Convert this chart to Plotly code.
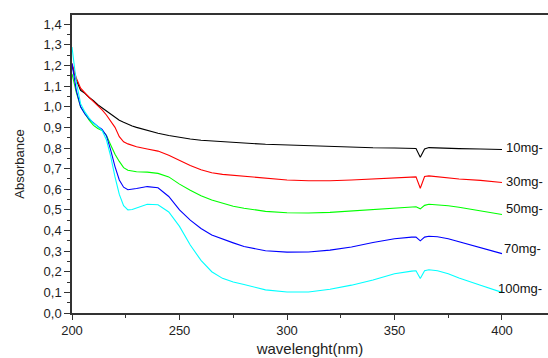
import plotly.graph_objects as go

wavelength = [200, 202, 204, 206, 208, 210, 212, 214, 216, 218, 220, 222, 224, 226, 228, 230,
              235, 240, 245, 250, 255, 260, 265, 270, 275, 280, 290, 300, 310, 320, 330, 340,
              350, 358, 360, 362, 364, 366, 370, 375, 380, 390, 400]

abs_10mg = [1.20, 1.13, 1.08, 1.065, 1.045, 1.03, 1.01, 0.995, 0.98, 0.965, 0.95, 0.935, 0.925,
            0.915, 0.907, 0.90, 0.885, 0.872, 0.861, 0.851, 0.844, 0.838, 0.834, 0.830, 0.827,
            0.824, 0.818, 0.814, 0.810, 0.806, 0.803, 0.801, 0.800, 0.799, 0.798, 0.755, 0.795,
            0.802, 0.800, 0.798, 0.797, 0.795, 0.793]

abs_30mg = [1.21, 1.14, 1.09, 1.065, 1.045, 1.025, 1.005, 0.985, 0.96, 0.93, 0.90, 0.855, 0.83,
            0.82, 0.812, 0.806, 0.795, 0.785, 0.765, 0.74, 0.715, 0.695, 0.68, 0.672, 0.667,
            0.662, 0.652, 0.645, 0.641, 0.641, 0.645, 0.650, 0.655, 0.660, 0.660, 0.605, 0.662,
            0.665, 0.660, 0.655, 0.650, 0.643, 0.633]

abs_50mg = [1.16, 1.07, 1.00, 0.965, 0.935, 0.91, 0.895, 0.885, 0.862, 0.815, 0.77, 0.735, 0.705,
            0.692, 0.687, 0.685, 0.683, 0.677, 0.66, 0.625, 0.595, 0.568, 0.548, 0.532, 0.518,
            0.508, 0.493, 0.486, 0.485, 0.488, 0.495, 0.502, 0.508, 0.514, 0.515, 0.505, 0.522,
            0.527, 0.525, 0.52, 0.513, 0.497, 0.478]

abs_70mg = [1.21, 1.08, 1.00, 0.965, 0.94, 0.92, 0.905, 0.89, 0.86, 0.79, 0.71, 0.645, 0.61,
            0.598, 0.600, 0.604, 0.613, 0.607, 0.565, 0.50, 0.45, 0.41, 0.378, 0.358, 0.34,
            0.322, 0.302, 0.295, 0.296, 0.305, 0.32, 0.342, 0.36, 0.368, 0.368, 0.35, 0.368,
            0.372, 0.37, 0.36, 0.345, 0.315, 0.288]

abs_100mg = [1.29, 1.12, 1.015, 0.975, 0.945, 0.92, 0.905, 0.885, 0.84, 0.76, 0.66, 0.575, 0.52,
             0.50, 0.502, 0.51, 0.527, 0.525, 0.49, 0.42, 0.33, 0.255, 0.20, 0.168, 0.15,
             0.138, 0.112, 0.102, 0.102, 0.115, 0.135, 0.16, 0.19, 0.203, 0.205, 0.167, 0.205,
             0.21, 0.205, 0.19, 0.17, 0.135, 0.10]

series_names = ["10mg-", "30mg-", "50mg-", "70mg-", "100mg-"]
series_values = [abs_10mg, abs_30mg, abs_50mg, abs_70mg, abs_100mg]
colors = ["#000000", "#ff0000", "#00ff00", "#0000ff", "#00ffff"]
label_yshift = [2, 1, 6, 5, 4]
label_xshift = [2, 2, 2, 0, -6]

FONT = "Liberation Sans, Arial, sans-serif"

fig = go.Figure()
for name, vals, col in zip(series_names, series_values, colors):
    fig.add_trace(go.Scatter(x=wavelength, y=vals, mode="lines", name=name,
                             line=dict(color=col, width=1.1)))

annotations = []
for name, vals, ys, xs in zip(series_names, series_values, label_yshift, label_xshift):
    annotations.append(dict(x=wavelength[-1], y=vals[-1], text=name, showarrow=False,
                            xanchor="left", yanchor="middle", xshift=xs, yshift=ys,
                            font=dict(family=FONT, size=13, color="#111111")))

fig.update_layout(
    width=548, height=358,
    margin=dict(l=72, r=0, t=15, b=45, autoexpand=False),
    paper_bgcolor="white", plot_bgcolor="white",
    showlegend=False,
    separators=",.",
    font=dict(family=FONT, size=13, color="#222222"),
    annotations=annotations,
    xaxis=dict(
        range=[200, 421.4], showgrid=False, zeroline=False, automargin=False,
        showline=True, linecolor="#333333", linewidth=1.5, mirror=True,
        ticks="outside", ticklen=5, tickwidth=1.2, tickcolor="#333333",
        dtick=50, tick0=200,
        tickfont=dict(family=FONT, size=13, color="#222222"),
        minor=dict(ticks="outside", ticklen=3, dtick=25, tick0=200, tickcolor="#333333", tickwidth=1),
        title=dict(text="wavelenght(nm)", font=dict(family=FONT, size=15, color="#222222"), standoff=6),
    ),
    yaxis=dict(
        range=[0, 1.445], showgrid=False, zeroline=False, automargin=False,
        showline=True, linecolor="#333333", linewidth=1.5,
        ticks="outside", ticklen=6, tickwidth=1.2, tickcolor="#333333",
        dtick=0.1, tick0=0, tickformat=".1f",
        tickfont=dict(family=FONT, size=13, color="#222222"),
        minor=dict(ticks="outside", ticklen=3.5, dtick=0.05, tick0=0, tickcolor="#333333", tickwidth=1),
        title=dict(text="Absorbance", font=dict(family=FONT, size=13, color="#222222"), standoff=16),
    ),
)

fig.write_html("out.html", config={"displayModeBar": False},
               post_script="document.body.style.margin='0';document.body.style.overflow='hidden';")
